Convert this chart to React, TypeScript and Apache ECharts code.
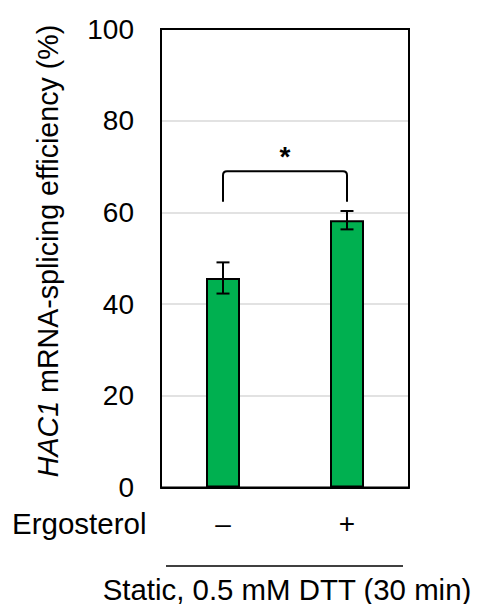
import React, { useEffect, useRef } from 'react';
import * as echarts from 'echarts';

const FONT = 'Arial, "Liberation Sans", Helvetica, sans-serif';

// Treatment groups (ergosterol absent / present)
const categories = ['–', '+'];
// HAC1 mRNA-splicing efficiency (%), mean and error
const splicingMean = [45.7, 58.3];
const splicingErr = [3.4, 2.0];
// Significance bracket between the two groups
const bracketLeg = 62.3;
const bracketTop = 69;
const starLevel = 72.3;
const starText = '*';
// Axis range
const yMin = 0;
const yMax = 100;
const yStep = 20;

export default function App() {
  const ref = useRef<HTMLDivElement>(null);

  useEffect(() => {
    const chart = echarts.init(ref.current!, null, { renderer: 'svg' });

    chart.setOption({
      animation: false,
      textStyle: { fontFamily: FONT },
      grid: {
        left: 161,
        right: 72,
        top: 29,
        bottom: 116.5,
        show: true,
        borderColor: '#000',
        borderWidth: 2,
        backgroundColor: 'transparent',
        z: 5,
      },
      xAxis: {
        type: 'category',
        data: categories,
        axisLine: { show: true, lineStyle: { color: '#000', width: 2 } },
        axisTick: { show: false },
        axisLabel: { fontSize: 28, color: '#000', margin: 22, fontFamily: FONT },
      },
      yAxis: {
        type: 'value',
        min: yMin,
        max: yMax,
        interval: yStep,
        axisLine: { show: true, lineStyle: { color: '#000', width: 2 } },
        axisTick: { show: false },
        splitLine: { lineStyle: { color: '#d9d9d9', width: 1.5 } },
        axisLabel: { fontSize: 28, color: '#000', margin: 27, fontFamily: FONT },
      },
      series: [
        {
          type: 'bar',
          data: splicingMean,
          barWidth: 34,
          itemStyle: { color: '#00b050', borderColor: '#000', borderWidth: 2 },
          z: 2,
        },
        {
          // error bars
          type: 'custom',
          data: splicingMean.map((m, i) => [i, m, splicingErr[i]]),
          z: 3,
          renderItem: (params: any, api: any) => {
            const idx = api.value(0);
            const mean = api.value(1);
            const err = api.value(2);
            const hi = api.coord([idx, mean + err]);
            const lo = api.coord([idx, mean - err]);
            const half = 6.5;
            const style = { stroke: '#000', lineWidth: 2 };
            return {
              type: 'group',
              children: [
                { type: 'line', shape: { x1: hi[0], y1: hi[1], x2: lo[0], y2: lo[1] }, style },
                { type: 'line', shape: { x1: hi[0] - half, y1: hi[1], x2: hi[0] + half, y2: hi[1] }, style },
                { type: 'line', shape: { x1: lo[0] - half, y1: lo[1], x2: lo[0] + half, y2: lo[1] }, style },
              ],
            };
          },
        },
        {
          // significance bracket and star
          type: 'custom',
          data: [[0, 1, bracketLeg, bracketTop, starLevel]],
          z: 3,
          renderItem: (params: any, api: any) => {
            const a = api.value(0);
            const b = api.value(1);
            const leg = api.value(2);
            const top = api.value(3);
            const star = api.value(4);
            const pL = api.coord([a, leg]);
            const pR = api.coord([b, leg]);
            const yTop = api.coord([a, top])[1];
            const yStar = api.coord([a, star])[1];
            const r = 4;
            const x1 = pL[0];
            const x2 = pR[0];
            const d =
              `M${x1},${pL[1]} L${x1},${yTop + r} Q${x1},${yTop} ${x1 + r},${yTop} ` +
              `L${x2 - r},${yTop} Q${x2},${yTop} ${x2},${yTop + r} L${x2},${pR[1]}`;
            return {
              type: 'group',
              children: [
                {
                  type: 'path',
                  shape: { pathData: d },
                  style: { stroke: '#000', lineWidth: 2, fill: 'none' },
                },
                {
                  type: 'text',
                  x: (x1 + x2) / 2,
                  y: yStar,
                  style: {
                    text: starText,
                    fontSize: 28,
                    fontWeight: 'bold',
                    fontFamily: FONT,
                    fill: '#000',
                    align: 'center',
                    verticalAlign: 'middle',
                  },
                },
              ],
            };
          },
        },
      ],
      graphic: [
        {
          // y-axis title, rotated
          type: 'text',
          x: 48,
          y: 251,
          rotation: Math.PI / 2,
          style: {
            text: '{i|HAC1} mRNA-splicing efficiency (%)',
            fontSize: 28.6,
            fill: '#000',
            fontFamily: FONT,
            align: 'center',
            verticalAlign: 'middle',
            rich: {
              i: { fontSize: 28.6, fontStyle: 'italic', fill: '#000', fontFamily: FONT },
            },
          },
        },
        {
          type: 'text',
          left: 12,
          top: 508,
          style: { text: 'Ergosterol', fontSize: 29.5, fill: '#000', fontFamily: FONT },
        },
        {
          type: 'line',
          shape: { x1: 166, y1: 566, x2: 403, y2: 566 },
          style: { stroke: '#000', lineWidth: 1.5 },
        },
        {
          type: 'text',
          x: 287,
          y: 589,
          style: {
            text: 'Static, 0.5 mM DTT (30 min)',
            fontSize: 29.4,
            lineHeight: 26,
            fill: '#000',
            fontFamily: FONT,
            align: 'center',
            verticalAlign: 'middle',
          },
        },
      ],
    });

    return () => chart.dispose();
  }, []);

  return (
    <div
      ref={ref}
      style={{ position: 'absolute', left: 0, top: 0, width: 481, height: 604, background: '#fff' }}
    />
  );
}
